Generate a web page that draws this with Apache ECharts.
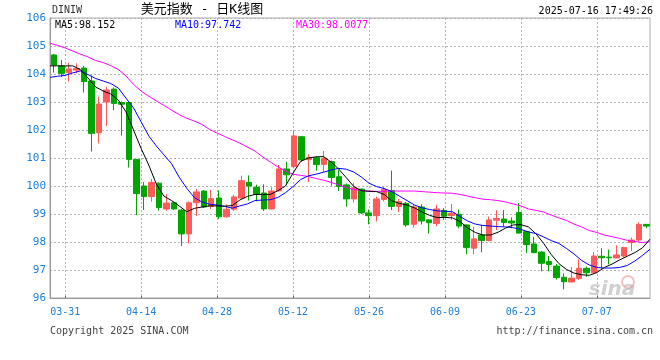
<!DOCTYPE html>
<html><head><meta charset="utf-8">
<script src="https://cdn.jsdelivr.net/npm/echarts@6/dist/echarts.min.js"></script>
<style>html,body{margin:0;padding:0;background:#fff}#c{width:660px;height:360px}</style>
</head><body><div id="c"></div>
<script>
const dates = [
'2025-03-27','2025-03-28','2025-03-31',
'2025-04-01','2025-04-02','2025-04-03','2025-04-04','2025-04-07','2025-04-08','2025-04-09','2025-04-10','2025-04-11',
'2025-04-14','2025-04-15','2025-04-16','2025-04-17','2025-04-18','2025-04-21','2025-04-22','2025-04-23','2025-04-24','2025-04-25',
'2025-04-28','2025-04-29','2025-04-30','2025-05-01','2025-05-02','2025-05-05','2025-05-06','2025-05-07','2025-05-08','2025-05-09',
'2025-05-12','2025-05-13','2025-05-14','2025-05-15','2025-05-16','2025-05-19','2025-05-20','2025-05-21','2025-05-22','2025-05-23',
'2025-05-26','2025-05-27','2025-05-28','2025-05-29','2025-05-30','2025-06-02','2025-06-03','2025-06-04','2025-06-05','2025-06-06',
'2025-06-09','2025-06-10','2025-06-11','2025-06-12','2025-06-13','2025-06-16','2025-06-17','2025-06-18','2025-06-19','2025-06-20',
'2025-06-23','2025-06-24','2025-06-25','2025-06-26','2025-06-27','2025-06-30','2025-07-01','2025-07-02','2025-07-03','2025-07-04',
'2025-07-07','2025-07-08','2025-07-09','2025-07-10','2025-07-11','2025-07-14','2025-07-15','2025-07-16'];

const opens = [104.68,104.29,104.05,104.14,104.21,103.75,101.9,103.0,103.46,102.98,
102.98,100.95,100.0,99.62,100.1,99.18,99.4,99.14,98.29,99.4,
99.82,99.27,99.57,98.9,99.17,99.57,100.13,99.95,99.75,99.18,
99.83,100.61,100.69,101.76,100.94,101.01,100.77,100.87,100.33,100.04,
99.54,99.89,99.04,98.94,99.52,99.84,99.27,99.38,98.63,99.25,
98.79,98.66,99.13,98.94,98.99,98.61,97.78,98.25,98.05,98.78,
98.82,98.75,99.05,98.37,97.93,97.64,97.3,97.14,96.74,96.57,
96.7,97.06,96.9,97.49,97.46,97.43,97.5,97.98,98.07,98.63];
const closes = [104.32,104.02,104.18,104.2,103.73,101.88,102.93,103.43,102.95,102.92,
100.95,99.73,99.62,100.13,99.23,99.39,99.18,98.29,99.4,99.79,
99.25,99.55,98.9,99.17,99.61,100.19,100.0,99.71,99.18,99.82,
100.61,100.4,101.79,100.93,101.01,100.77,100.99,100.3,99.98,99.54,
99.94,99.04,98.94,99.54,99.88,99.27,99.44,98.61,99.25,98.75,
98.69,99.18,98.92,99.03,98.57,97.8,98.11,98.05,98.79,98.84,
98.7,98.68,98.32,97.91,97.62,97.24,97.2,96.73,96.58,96.71,
97.06,96.9,97.5,97.44,97.44,97.54,97.8,98.07,98.63,98.57];
const lows = [104.05,103.89,103.73,104.02,103.34,101.23,101.52,102.14,102.71,101.8,
100.66,98.96,99.14,99.44,99.12,99.11,99.14,97.86,97.95,98.93,
99.21,99.18,98.82,98.87,99.11,99.54,99.48,99.45,99.11,99.16,
99.8,100.04,100.64,100.87,100.14,100.55,100.5,100.01,99.82,99.26,
99.41,99.0,98.63,98.73,99.45,99.14,99.07,98.54,98.52,98.63,
98.3,98.57,98.79,98.79,98.49,97.56,97.56,97.63,98.02,98.43,
98.55,98.49,98.3,97.61,97.6,96.95,96.95,96.66,96.31,96.57,
96.64,96.76,96.87,97.05,97.2,97.42,97.45,97.68,98.02,98.49];
const highs = [104.71,104.5,104.4,104.38,104.29,103.95,103.19,103.54,103.52,103.02,
103.02,100.96,100.14,100.25,100.13,99.71,99.44,99.18,99.45,99.89,
99.85,99.86,99.84,99.34,99.68,100.37,100.38,100.05,100.06,99.95,
100.75,100.86,101.98,101.79,101.14,101.05,101.25,100.91,100.57,100.09,
100.11,99.91,99.16,99.62,99.96,100.55,99.54,99.43,99.32,99.35,
98.82,99.32,99.21,99.36,99.16,98.63,98.54,98.61,98.91,99.14,
99.14,98.88,99.39,98.39,98.18,97.68,97.5,97.21,96.88,97.1,
97.38,97.12,97.64,97.78,97.73,97.88,97.83,98.16,98.7,98.64];

const ma5 = [104.29,104.29,104.29,104.29,104.16,103.86,103.54,103.39,103.29,103.07,
102.65,102.0,101.34,100.75,100.07,99.64,99.48,99.29,99.08,99.2,
99.25,99.29,99.29,99.28,99.3,99.5,99.63,99.7,99.7,99.7,
99.83,100.0,100.46,100.88,101.0,101.04,101.05,100.86,100.61,100.3,
99.98,99.83,99.81,99.8,99.7,99.47,99.38,99.32,99.22,99.07,
98.95,98.87,98.88,98.86,98.73,98.5,98.34,98.25,98.25,98.35,
98.5,98.61,98.62,98.54,98.29,97.95,97.55,97.23,97.02,96.89,
96.83,96.81,96.91,97.09,97.21,97.36,97.49,97.62,97.79,98.1];
const ma10 = [103.88,103.92,103.95,104.04,104.11,103.98,103.84,103.75,103.66,103.5,
103.14,102.79,102.29,101.79,101.43,101.11,100.8,100.32,99.92,99.59,
99.43,99.35,99.32,99.27,99.21,99.29,99.36,99.48,99.5,99.51,
99.59,99.76,99.98,100.23,100.36,100.42,100.49,100.57,100.63,100.6,
100.5,100.32,100.1,99.98,99.91,99.8,99.64,99.48,99.32,99.22,
99.16,99.11,99.1,99.08,98.91,98.75,98.64,98.59,98.57,98.55,
98.54,98.51,98.45,98.36,98.3,98.18,98.05,97.95,97.77,97.57,
97.34,97.18,97.09,97.07,97.07,97.09,97.16,97.32,97.52,97.74];
const ma30 = [105.1,105.02,104.93,104.82,104.71,104.61,104.48,104.41,104.3,104.16,
103.93,103.63,103.39,103.21,103.04,102.88,102.71,102.55,102.42,102.32,
102.2,102.02,101.89,101.77,101.65,101.53,101.39,101.25,101.04,100.86,
100.68,100.54,100.42,100.38,100.34,100.27,100.21,100.13,100.04,99.95,
99.88,99.84,99.82,99.81,99.81,99.82,99.82,99.82,99.82,99.8,
99.78,99.76,99.75,99.74,99.7,99.64,99.58,99.53,99.51,99.48,
99.43,99.36,99.29,99.18,99.13,99.07,98.96,98.86,98.77,98.64,
98.54,98.41,98.34,98.25,98.19,98.13,98.06,98.02,97.98,98.01];

const yMin = 96, yMax = 106, yStep = 1;
const labelEvery = 10, labelOffset = 2;
const legendMA5 = 'MA5:98.152', legendMA10 = 'MA10:97.742', legendMA30 = 'MA30:98.0077';
const titleText = '美元指数 - 日K线图';
const symbolText = 'DINIW';
const timeText = '2025-07-16 17:49:26';

const kData = opens.map((o, i) => [o, closes[i], lows[i], highs[i]]);
const mono = '"DejaVu Sans Mono", "Liberation Mono", monospace';
const blue = '#1e7fd6';
const showIdx = (i) => i % labelEvery === labelOffset;
const txt = (x, y, text, fill, font, align) => ({type: 'text', x: x, y: y, z: 10,
  style: {text: text, fill: fill, font: font, textAlign: align || 'left', align: align || 'left',
          textVerticalAlign: 'middle', verticalAlign: 'middle'}});

const chart = echarts.init(document.getElementById('c'), null, {renderer: 'canvas'});
chart.setOption({
  animation: false,
  backgroundColor: '#fff',
  grid: {left: 50, right: 10, top: 18, bottom: 62, show: true, borderColor: '#aaa', borderWidth: 1, backgroundColor: 'transparent'},
  xAxis: [
    {type: 'category', data: dates, boundaryGap: true, position: 'bottom', show: false},
    {type: 'category', data: dates, boundaryGap: false, position: 'bottom',
     axisLine: {lineStyle: {color: '#999', width: 1}},
     axisTick: {show: true, inside: true, length: 2, interval: showIdx, lineStyle: {color: '#666'}},
     axisLabel: {interval: showIdx, color: blue, fontFamily: mono, fontSize: 10, margin: 9,
                 formatter: (v) => v.slice(5)},
     splitLine: {show: true, interval: showIdx, lineStyle: {color: '#b4b4b4', type: [2, 2], width: 1}}}
  ],
  yAxis: {type: 'value', min: yMin, max: yMax, interval: yStep, scale: true,
    axisLine: {show: true, lineStyle: {color: '#999'}},
    axisTick: {show: false},
    axisLabel: {color: blue, fontFamily: mono, fontSize: 11, margin: 4},
    splitLine: {show: true, lineStyle: {color: '#b4b4b4', type: [2, 2], width: 1}}},
  series: [
    {type: 'candlestick', xAxisIndex: 0, data: kData, barWidth: 6,
     itemStyle: {color: '#ff5a5a', color0: '#00a600', borderColor: '#ff5a5a', borderColor0: '#00a600', borderWidth: 1}},
    {type: 'line', xAxisIndex: 1, data: ma30, symbol: 'none', lineStyle: {color: '#ff00ff', width: 1}, z: 3},
    {type: 'line', xAxisIndex: 1, data: ma10, symbol: 'none', lineStyle: {color: '#0000ff', width: 1}, z: 4},
    {type: 'line', xAxisIndex: 1, data: ma5, symbol: 'none', lineStyle: {color: '#000000', width: 1}, z: 5}
  ],
  graphic: [
    txt(52, 10, symbolText, '#333', '10px ' + mono),
    txt(202, 10, titleText, '#000', '13px "DejaVu Sans Mono", "Noto Sans CJK SC", sans-serif', 'center'),
    txt(653, 11, timeText, '#000', '10px ' + mono, 'right'),
    txt(55, 25, legendMA5, '#000', '10px ' + mono),
    txt(175, 25, legendMA10, '#0000ff', '10px ' + mono),
    txt(296, 25, legendMA30, '#ff00ff', '10px ' + mono),
    txt(50, 331, 'Copyright 2025 SINA.COM', '#444', '10px ' + mono),
    txt(653, 331, 'http://finance.sina.com.cn', '#444', '10px ' + mono, 'right'),
    {type: 'circle', shape: {cx: 628, cy: 282, r: 6}, style: {fill: 'none', stroke: 'rgba(230,120,120,0.45)', lineWidth: 2}, z: 1},
    {type: 'text', x: 612, y: 290, z: 1, style: {text: 'sina', fill: 'rgba(170,170,170,0.55)', font: 'italic bold 20px "DejaVu Sans", sans-serif', textAlign: 'center', align: 'center', textVerticalAlign: 'middle', verticalAlign: 'middle'}}
  ]
});
</script>
</body></html>
